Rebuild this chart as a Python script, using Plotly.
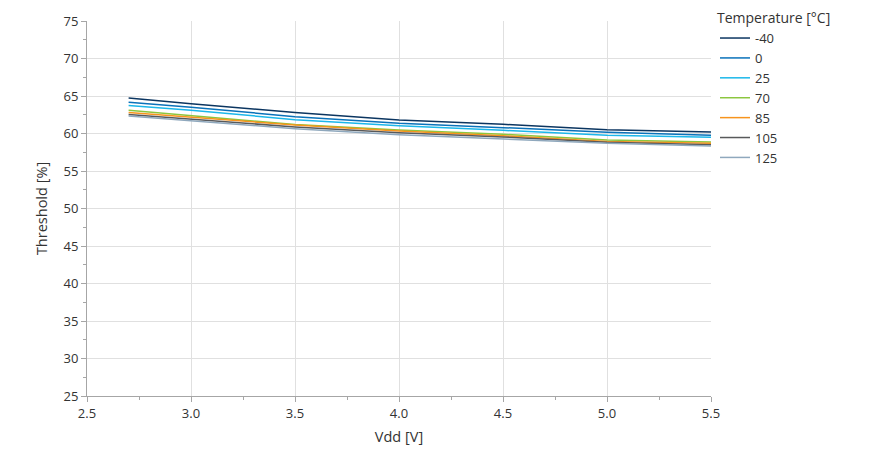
import plotly.graph_objects as go

vdd = [2.7, 3.0, 3.5, 4.0, 4.5, 5.0, 5.5]
temps = ["-40", "0", "25", "70", "85", "105", "125"]
t_m40 = [64.73, 63.96, 62.80, 61.80, 61.23, 60.51, 60.20]
t_0 = [64.15, 63.50, 62.25, 61.36, 60.78, 60.16, 59.76]
t_25 = [63.75, 63.10, 61.85, 61.04, 60.42, 59.76, 59.50]
t_70 = [63.10, 62.40, 61.20, 60.47, 59.90, 59.13, 58.87]
t_85 = [62.80, 62.20, 61.13, 60.33, 59.70, 58.95, 58.70]
t_105 = [62.55, 61.93, 60.87, 60.10, 59.53, 58.85, 58.50]
t_125 = [62.33, 61.67, 60.64, 59.85, 59.27, 58.70, 58.33]
series = [t_m40, t_0, t_25, t_70, t_85, t_105, t_125]
colors = ["#0b3560", "#0a72ba", "#1bb7ea", "#8cc63f", "#f7941d", "#58595b", "#8fa8bd"]

fig = go.Figure()
for name, ys, c in zip(temps, series, colors):
    fig.add_trace(go.Scatter(x=vdd, y=ys, mode="lines", name=name,
                             line=dict(color=c, width=1.5)))

font = "Open Sans, Noto Sans, sans-serif"
fig.update_layout(
    width=876, height=469,
    margin=dict(l=79, r=173, t=13, b=81, autoexpand=False),
    plot_bgcolor="white", paper_bgcolor="white",
    font=dict(family=font, size=13, color="#333333"),
    legend=dict(
        title=dict(text="Temperature [°C]", font=dict(size=14)),
        x=1.0064, xanchor="left", y=1.043, yanchor="top",
        font=dict(size=13), tracegroupgap=0, itemwidth=30,
    ),
    showlegend=True,
)
fig.update_xaxes(
    range=[2.5, 5.5], dtick=0.5, tickformat=".1f",
    showgrid=True, gridcolor="#e0e0e0", gridwidth=1,
    showline=True, linecolor="#a6a6a6", linewidth=1,
    ticks="outside", ticklen=5, tickcolor="#a6a6a6",
    minor=dict(dtick=0.25, ticks="outside", ticklen=3, tickcolor="#a6a6a6", showgrid=False),
    title=dict(text="Vdd [V]", standoff=11, font=dict(size=14.5)),
    zeroline=False, automargin=False,
)
fig.update_yaxes(
    range=[25, 75], dtick=5,
    showgrid=True, gridcolor="#e0e0e0", gridwidth=1,
    showline=True, linecolor="#a6a6a6", linewidth=1,
    ticks="outside", ticklen=5, tickcolor="#a6a6a6",
    minor=dict(dtick=2.5, ticks="outside", ticklen=3, tickcolor="#a6a6a6", showgrid=False),
    title=dict(text="Threshold [%]", standoff=12, font=dict(size=14.5)),
    zeroline=False, automargin=False,
)

fig.write_html("out.html")
